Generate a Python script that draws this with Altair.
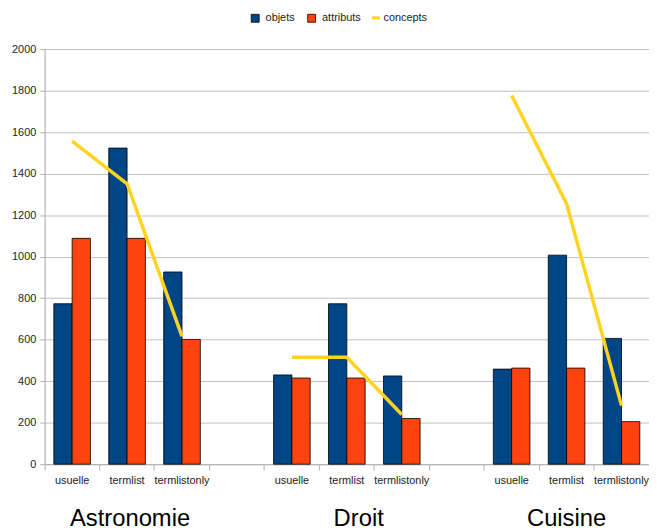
import altair as alt
import pandas as pd

slots = ["A_usuelle", "A_termlist", "A_termlistonly", "gap1",
         "D_usuelle", "D_termlist", "D_termlistonly", "gap2",
         "C_usuelle", "C_termlist", "C_termlistonly"]
bar_slots = ["A_usuelle", "A_termlist", "A_termlistonly",
             "D_usuelle", "D_termlist", "D_termlistonly",
             "C_usuelle", "C_termlist", "C_termlistonly"]
domains = ["Astronomie"] * 3 + ["Droit"] * 3 + ["Cuisine"] * 3
objets = [773, 1523, 926, 430, 773, 425, 458, 1007, 606]
attributs = [1088, 1088, 601, 415, 415, 220, 463, 463, 205]
concepts = [1556, 1351, 616, 515, 515, 239, 1776, 1255, 282]
group_names = ["Astronomie", "Droit", "Cuisine"]
group_slots = ["A_termlist", "D_termlist", "C_termlist"]
group_dx = [3, 12, 0]

W, H = 610, 419
FONT = "Liberation Sans"

bars_df = pd.DataFrame(
    [{"slot": s, "serie": "objets", "value": v} for s, v in zip(bar_slots, objets)]
    + [{"slot": s, "serie": "attributs", "value": v} for s, v in zip(bar_slots, attributs)]
)
line_df = pd.DataFrame({"slot": bar_slots, "domain": domains, "serie": ["concepts"] * 9,
                        "value": concepts})

xscale = alt.Scale(domain=slots, paddingInner=0, paddingOuter=0)
xaxis = alt.Axis(title=None, bandPosition=0, labelAngle=0,
                 labelExpr="indexof(datum.value,'_') > 0 ? substring(datum.value, indexof(datum.value,'_')+1) : ''",
                 labelOverlap=False, labelBound=False, tickSize=6, tickColor="#b3b3b3",
                 domainColor="#b3b3b3", labelPadding=5, labelFontSize=11,
                 labelColor="#222222", labelFont=FONT, grid=False)
yscale = alt.Scale(domain=[0, 2000], nice=False)
yaxis = alt.Axis(title=None, values=list(range(0, 2001, 200)), format="d", tickSize=5,
                 tickColor="#b3b3b3", domainColor="#b3b3b3", gridColor="#c0c0c0",
                 labelPadding=4, labelFontSize=11, labelColor="#222222", labelFont=FONT)

bars = alt.Chart(bars_df).mark_bar(stroke="black", strokeWidth=0.8).encode(
    x=alt.X("slot:N", scale=xscale, axis=xaxis),
    xOffset=alt.XOffset("serie:N", sort=["objets", "attributs"],
                        scale=alt.Scale(domain=["objets", "attributs"], paddingInner=0, paddingOuter=0.5)),
    y=alt.Y("value:Q", scale=yscale, axis=yaxis),
    fill=alt.Fill("serie:N", scale=alt.Scale(domain=["objets", "attributs"], range=["#004586", "#ff420e"]),
                  legend=alt.Legend(orient="none", legendX=207, legendY=-37, direction="horizontal",
                                    title=None, symbolType="square", symbolSize=64,
                                    symbolStrokeColor="black", symbolStrokeWidth=0.8,
                                    labelFontSize=11, labelFont=FONT, labelColor="#222222",
                                    columnPadding=10, labelOffset=5)),
)

line = alt.Chart(line_df).mark_line(strokeWidth=3.5).encode(
    x=alt.X("slot:N", scale=xscale, axis=xaxis),
    y=alt.Y("value:Q", scale=yscale, axis=yaxis),
    detail="domain:N",
    stroke=alt.Stroke("serie:N", scale=alt.Scale(domain=["concepts"], range=["#ffd320"]),
                      legend=alt.Legend(orient="none", legendX=329, legendY=-37, direction="horizontal",
                                        title=None, symbolType="stroke", symbolSize=64,
                                        symbolStrokeWidth=3,
                                        labelFontSize=11, labelFont=FONT, labelColor="#222222",
                                        labelOffset=2)),
)

texts = []
for name, slot, dx in zip(group_names, group_slots, group_dx):
    tdf = pd.DataFrame({"slot": [slot], "name": [name]})
    texts.append(alt.Chart(tdf).mark_text(fontSize=24, font=FONT, color="black", dx=dx,
                                          baseline="alphabetic", align="center").encode(
        x=alt.X("slot:N", scale=xscale, axis=xaxis),
        y=alt.value(H + 62),
        text="name:N",
    ))

chart = alt.layer(bars, line, *texts).properties(
    width=W, height=H,
    autosize=alt.AutoSizeParams(type="none"),
    padding={"left": 37, "top": 39, "right": 0, "bottom": 65},
).configure_view(stroke="#b3b3b3").configure(background="white")

chart.save("out.html", embed_options={"renderer": "svg", "actions": False})
